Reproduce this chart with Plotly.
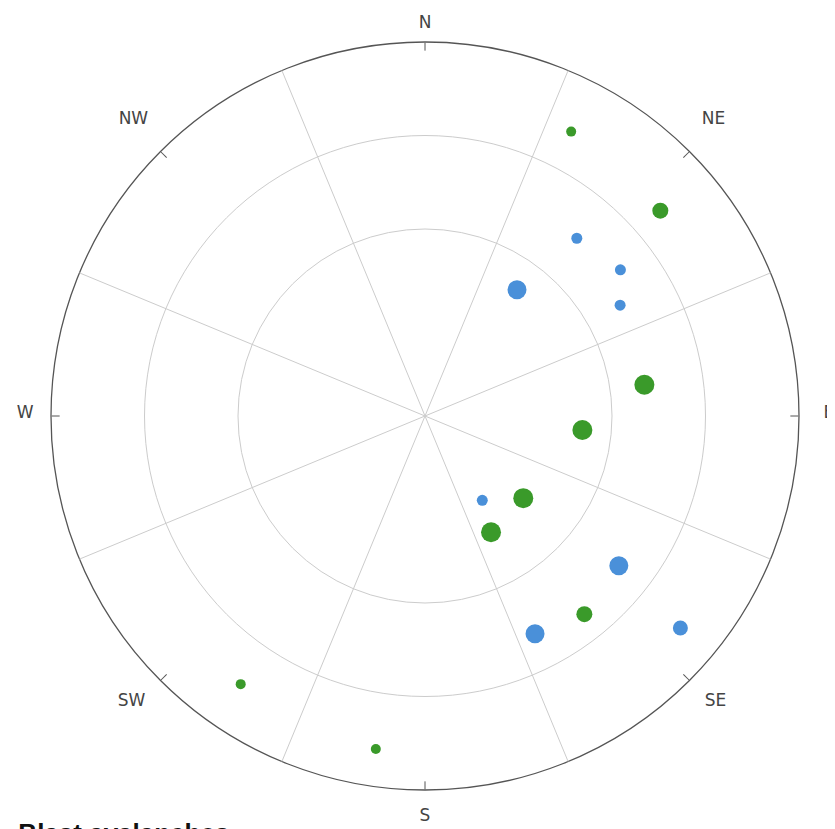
import plotly.graph_objects as go

# Radial values (0-4 scale), bearing in degrees (clockwise from N), marker sizes
green_r = [3.42, 3.34, 2.37, 1.69, 1.37, 1.43, 2.72, 3.48, 3.60]
green_theta = [27.2, 48.9, 81.9, 95.1, 129.9, 150.4, 141.2, 214.5, 188.4]
green_size = [10, 16, 20, 20, 20, 20, 16, 10, 10]

blue_r = [1.67, 2.50, 2.61, 2.40, 1.09, 2.62, 2.61, 3.55]
blue_theta = [36.1, 40.5, 53.2, 60.4, 145.8, 127.7, 153.2, 129.7]
blue_size = [19, 11, 11, 11, 11, 19, 19, 15]

dir_vals = [0, 45, 90, 135, 180, 225, 270, 315]
dir_labels = ["N", "NE", "E", "SE", "S", "SW", "W", "NW"]
sector_edges = [22.5, 67.5, 112.5, 157.5, 202.5, 247.5, 292.5, 337.5]
ring_vals = [2, 3]

W, H = 835, 829
# page body has an 8px margin, so figure coords are shifted by -8
cx, cy, R = 417, 408, 374

# label groups: (directions, extra radius, dx, dy) — fine placement of the compass labels
label_groups = [
    (["N", "S"], 11.5, 0, 1.5),
    (["E", "W"], 20.5, 3.5, -4),
    (["NE", "NW"], 17, 0, -16.9),
    (["SE", "SW"], 21, 0, -6),
]


def clamp(v):
    return min(1.0, max(0.0, v))


def dom(rad, dx=0, dy=0):
    x0, y0 = cx + dx, cy + dy
    return dict(x=[clamp((x0 - rad) / W), clamp((x0 + rad) / W)],
                y=[clamp((H - y0 - rad) / H), clamp((H - y0 + rad) / H)])


fig = go.Figure()
fig.add_trace(go.Scatterpolar(
    r=green_r, theta=green_theta, mode="markers",
    name="Ice Blast avalanches",
    marker=dict(color="#3a9a2a", size=green_size, opacity=1, line=dict(width=0)),
    subplot="polar",
))
fig.add_trace(go.Scatterpolar(
    r=blue_r, theta=blue_theta, mode="markers",
    name="Powder avalanches",
    marker=dict(color="#4a90d9", size=blue_size, opacity=1, line=dict(width=0)),
    subplot="polar",
))

layout = dict(
    width=W, height=H,
    margin=dict(l=0, r=0, t=0, b=0, autoexpand=False),
    paper_bgcolor="white",
    font=dict(family="DejaVu Sans", color="#333333"),
    polar=dict(
        domain=dom(R),
        bgcolor="rgba(0,0,0,0)",
        angularaxis=dict(
            direction="clockwise", rotation=90,
            tickmode="array", tickvals=dir_vals, ticktext=[""] * 8,
            showticklabels=False,
            ticks="inside", ticklen=8, tickcolor="#555555", tickwidth=1.2,
            showgrid=False,
            showline=True, linecolor="#555555", linewidth=1.3,
        ),
        radialaxis=dict(
            range=[0, 4], tickmode="array", tickvals=ring_vals,
            showticklabels=False, ticks="", showline=False,
            showgrid=True, gridcolor="#cccccc", gridwidth=1.3,
        ),
    ),
    polar2=dict(
        domain=dom(R),
        bgcolor="rgba(0,0,0,0)",
        angularaxis=dict(
            direction="clockwise", rotation=90,
            tickmode="array", tickvals=sector_edges, ticktext=[""] * 8,
            showticklabels=False, ticks="",
            showgrid=True, gridcolor="#cccccc", gridwidth=1.3,
            showline=False,
        ),
        radialaxis=dict(range=[0, 4], visible=False),
    ),
    legend=dict(
        orientation="v", x=-73 / W, xanchor="left",
        y=(H - 800) / H, yanchor="top",
        bgcolor="rgba(0,0,0,0)",
        font=dict(family="Liberation Sans", size=26, color="#111111", weight="bold"),
    ),
    showlegend=True,
)

fig.add_trace(go.Scatterpolar(r=[], theta=[], subplot="polar2", showlegend=False))

for i, (names, extra, dx, dy) in enumerate(label_groups):
    key = "polar%d" % (i + 3)
    vals = [dir_vals[dir_labels.index(n)] for n in names]
    layout[key] = dict(
        domain=dom(R + extra, dx, dy),
        bgcolor="rgba(0,0,0,0)",
        angularaxis=dict(
            direction="clockwise", rotation=90,
            tickmode="array", tickvals=vals, ticktext=names,
            ticks="", showgrid=False, showline=False,
            tickfont=dict(size=17, color="#444444"),
        ),
        radialaxis=dict(range=[0, 4], visible=False),
    )
    fig.add_trace(go.Scatterpolar(r=[], theta=[], subplot=key, showlegend=False))

fig.update_layout(**layout)
fig.write_html("out.html")
